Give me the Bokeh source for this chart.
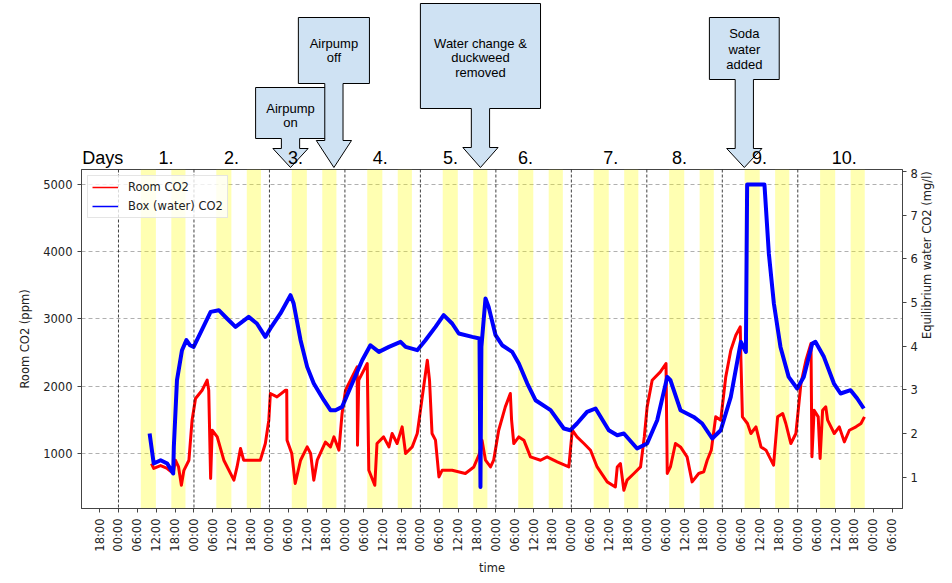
import numpy as np
from bokeh.plotting import figure
from bokeh.models import (Range1d, LinearAxis, FixedTicker, Span, Legend, LegendItem,
                          BoxAnnotation)
from bokeh.layouts import column
from bokeh.embed import file_html
from bokeh.resources import INLINE
from bokeh.core.properties import value

# ---------------- data (time in hours since midnight of day 1) ----------------
box_t = [9.9, 11.2, 13.4, 15.5, 17.4, 17.6, 18.6, 20.2, 21.6, 22.7, 23.9, 29.3, 31.9, 34.5,
         37.2, 41.4, 44.0, 46.7, 48.3, 51.5, 54.7, 55.7, 57.9, 60.0, 62.1, 65.3, 67.4, 69.0,
         71.1, 74.3, 77.5, 80.1, 82.8, 86.0, 89.7, 91.3, 95.0, 97.6, 100.8, 103.4, 106.1,
         108.2, 112.5, 114.8, 115.1, 115.4, 116.7, 117.7, 119.9, 122.0, 125.2, 127.3, 130.0,
         132.6, 137.4, 141.6, 143.7, 145.8, 149.0, 151.7, 155.9, 158.6, 160.7, 164.9, 168.1,
         171.3, 174.5, 175.5, 178.7, 182.9, 185.6, 188.8, 191.5, 194.7, 197.9, 199.5, 199.9,
         205.4, 206.8, 208.4, 210.5, 213.1, 215.8, 217.9, 220.6, 221.6, 224.3, 227.5, 229.6,
         232.8, 234.9, 237.0]
box_ppm = [1297, 851, 900, 851, 703, 1098, 2090, 2536, 2685, 2610, 2585, 3106, 3131, 3007,
           2883, 3031, 2933, 2734, 2859, 3082, 3354, 3230, 2685, 2288, 2040, 1792, 1644, 1644,
           1693, 2040, 2387, 2610, 2511, 2585, 2660, 2585, 2536, 2685, 2883, 3057, 2933,
           2784, 2734, 2710, 503, 2585, 3305, 3180, 2759, 2610, 2511, 2338, 2040,
           1792, 1644, 1372, 1346, 1446, 1619, 1669, 1346, 1272, 1297, 1074, 1148,
           1495, 2139, 2090, 1644, 1544, 1446, 1223, 1346, 1842, 2660, 2511, 5000,
           5000, 3974, 3231, 2585, 2139, 1967, 2139, 2636, 2660, 2437, 2040, 1892,
           1941, 1818, 1669]

room_t = [10.5, 11.2, 13.4, 15.5, 17.4, 18.1, 19.1, 20.0, 20.8, 22.4, 23.4, 24.5, 26.6, 28.2,
          28.7, 29.3, 29.8, 31.4, 33.5, 36.7, 37.7, 38.8, 39.8, 43.0, 45.1, 46.7, 47.8, 48.3,
          50.4, 53.1, 53.5, 53.6, 55.1, 56.2, 57.9, 60.0, 61.1, 62.1, 63.2, 65.8, 67.4, 68.5,
          70.1, 71.1, 72.2, 74.3, 75.9, 76.0, 76.4, 79.1, 79.6, 81.5, 82.2, 84.3, 86.0, 87.0,
          88.6, 90.2, 91.3, 93.4, 95.0, 96.6, 98.2, 98.9, 99.7, 100.8, 101.9, 102.9, 106.1,
          110.3, 113.0, 114.8, 115.6, 116.7, 118.3, 119.3, 120.9, 123.0, 124.6, 125.0, 125.7,
          127.3, 128.9, 131.0, 134.2, 136.3, 139.5, 143.2, 144.3, 145.8, 148.0, 150.1, 152.2,
          155.4, 158.0, 158.6, 159.6, 160.7, 161.7, 163.9, 166.0, 167.2, 168.1, 169.7, 172.3,
          174.1, 174.5, 175.5, 177.1, 178.7, 180.8, 182.4, 184.5, 186.1, 187.2, 188.5, 189.9,
          191.5, 193.1, 194.7, 196.3, 197.7, 197.9, 198.4, 200.0, 201.1, 202.7, 204.3, 205.9,
          208.3, 209.6, 211.2, 212.2, 213.8, 215.4, 217.0, 218.6, 220.2, 220.5, 221.2, 222.5,
          223.1, 223.9, 224.9, 225.5, 227.6, 229.2, 230.8, 232.4, 234.5, 236.1, 237.2]
room_ppm = [850, 777, 820, 777, 703, 900, 800, 527, 750, 900, 1495, 1818, 1941, 2090,
            1941, 628, 1346, 1247, 900, 603, 800, 1074, 900, 900, 900, 1148, 1495, 1892,
            1842, 1941, 1941, 1198, 1000, 554, 900, 1098, 1000, 603, 900, 1170, 1098, 1247,
            1049, 1595, 1941, 2139, 2288, 1124, 2090, 2338, 750, 527, 1148, 1247, 1098, 1297,
            1148, 1396, 1000, 1098, 1297, 1842, 2387, 2090, 1297, 1198, 652, 750, 750,
            703, 800, 1000, 1198, 900, 800, 900, 1346, 1693, 1892, 1495, 1148,
            1247, 1198, 950, 900, 950, 875, 800, 1346, 1247, 1148, 1049, 800,
            578, 503, 800, 851, 454, 603, 703, 800, 1247, 1693, 2090, 2214,
            2338, 703, 800, 1148, 1098, 950, 578, 703, 728, 900, 1050, 1545,
            1495, 2139, 2536, 2759, 2883, 2437, 1545, 1446, 1297, 1396, 1098, 1049,
            826, 1545, 1595, 1446, 1148, 1297, 2040, 2387, 2636, 950, 1644, 1545,
            925, 1644, 1693, 1495, 1297, 1396, 1173, 1346, 1396, 1446, 1545]

PPM_TO_MGL = 0.00154          # equilibrium water CO2 (mg/l) per ppm
x_ticks = list(range(-6, 247, 6))
tick_labels = {t: "%02d:00" % (t % 24) for t in x_ticks}
y_ticks = [1000, 2000, 3000, 4000, 5000]
y2_ticks = [1, 2, 3, 4, 5, 6, 7, 8]
midnights = [0, 24, 48, 72, 96, 120, 144, 168, 192, 216]
light_start = [7.1, 16.8]       # daily light periods (hour of day)
light_end = [11.9, 21.3]

day_labels = ["Days", "1.", "2.", "3.", "4.", "5.", "6.", "7.", "8.", "9.", "10."]
day_label_t = [-5.0, 15.1, 35.9, 56.3, 83.2, 105.6, 129.4, 156.5, 178.4, 203.8, 230.8]

events = [["Airpump", "on"], ["Airpump", "off"],
          ["Water change &", "duckweed", "removed"], ["Soda", "water", "added"]]
event_t = [54.7, 68.5, 115.1, 199.0]

# callout geometry (x half-widths in hours, y in px from page top)
box_half = [11.1, 11.3, 19.1, 11.1]
box_top = [87, 17, 3, 17]
box_bottom = [138, 83, 108, 79]
head_top = [148, 140, 147, 148]
text_rows = [[108, 122], [42.7, 56.7], [42.7, 57, 72], [33, 49, 64]]
SHAFT = 2.9
HEAD = 5.6
TIP = 167

TXT = "#222222"
FONT = "DejaVu Sans"

# layout (px)
W = 950
FL, FR = 81, 902             # frame left / right
TOP_H = 168
MAIN_H = 412
X0, X1 = -11.76, 249.3

# ---------------- main figure ----------------
p = figure(width=W, height=MAIN_H, x_range=Range1d(X0, X1), y_range=Range1d(182, 5223),
           toolbar_location=None, output_backend="svg",
           min_border_left=FL, min_border_right=W - FR, min_border_top=1,
           min_border_bottom=MAIN_H - 1 - 339)
p.background_fill_color = "white"
p.border_fill_color = "white"
p.outline_line_color = "#444444"
p.outline_line_width = 1

for d in midnights:
    for s, e in zip(light_start, light_end):
        p.add_layout(BoxAnnotation(left=d + s, right=d + e, fill_color="yellow",
                                   fill_alpha=0.3, line_color=None, level="underlay"))

for m in midnights:
    p.add_layout(Span(location=m, dimension="height", line_color="black",
                      line_dash="3 2", line_width=1, line_alpha=0.75))

p.line(room_t, room_ppm, color="red", line_width=3, line_join="round")
p.line(box_t, box_ppm, color="blue", line_width=4, line_join="round")

leg_room = p.line([-100, -99], [-100, -100], color="red", line_width=1.5)
leg_box = p.line([-100, -99], [-100, -100], color="blue", line_width=1.5)
legend = Legend(items=[LegendItem(label="Room CO2", renderers=[leg_room]),
                       LegendItem(label="Box (water) CO2", renderers=[leg_box])],
                location="top_left", margin=6, padding=4, spacing=5,
                glyph_width=26, glyph_height=14, label_height=14, label_standoff=10,
                label_text_font=FONT, label_text_font_size="11.5px", label_text_color=TXT,
                border_line_color="#cccccc", background_fill_alpha=0.8)
p.add_layout(legend)

p.xgrid.visible = False
p.ygrid.ticker = FixedTicker(ticks=y_ticks)
p.ygrid.grid_line_color = "#b0b0b0"
p.ygrid.grid_line_dash = "4 3"
p.ygrid.grid_line_width = 1

p.extra_y_ranges = {"mgl": Range1d(182 * PPM_TO_MGL, 5223 * PPM_TO_MGL)}
right = LinearAxis(y_range_name="mgl", axis_label="Equilibrium water CO2 (mg/l)",
                   ticker=FixedTicker(ticks=y2_ticks))
p.add_layout(right, "right")
try:
    right.axis_label_orientation = np.pi / 2
except Exception:
    pass

p.xaxis.ticker = FixedTicker(ticks=x_ticks)
p.xaxis.major_label_overrides = tick_labels
p.xaxis.major_label_orientation = np.pi / 2
p.xaxis.axis_label = "time"
p.yaxis[0].ticker = FixedTicker(ticks=y_ticks)
p.yaxis[0].axis_label = "Room CO2 (ppm)"

for ax in p.xaxis + p.yaxis:
    ax.minor_tick_line_color = None
    ax.major_tick_out = 4
    ax.major_tick_in = 0
    ax.major_tick_line_color = "#444444"
    ax.axis_line_color = "#444444"
    ax.major_label_text_font = FONT
    ax.major_label_text_font_size = "11.5px"
    ax.major_label_text_color = TXT
    ax.axis_label_text_font = FONT
    ax.axis_label_text_font_size = "11.5px"
    ax.axis_label_text_font_style = "normal"
    ax.axis_label_text_color = TXT
p.yaxis[0].major_label_standoff = 5
p.yaxis[0].axis_label_standoff = 8
p.xaxis.major_label_standoff = 6
p.xaxis.axis_label_standoff = 6
right.major_label_standoff = 4
right.axis_label_standoff = 6

# ---------------- annotation strip above the plot (shares the time axis) ----------------
top = figure(width=W, height=TOP_H, x_range=p.x_range, y_range=Range1d(TOP_H, 0),
             toolbar_location=None, output_backend="svg",
             x_axis_location=None, y_axis_location=None,
             min_border_left=FL, min_border_right=W - FR, min_border_top=0, min_border_bottom=0)
top.grid.visible = False
top.outline_line_color = None
top.background_fill_color = "white"
top.border_fill_color = "white"

xs, ys = [], []
for t, bh, bt, bb, ht in zip(event_t, box_half, box_top, box_bottom, head_top):
    xs.append([t - bh, t + bh, t + bh, t + SHAFT, t + SHAFT, t + HEAD, t, t - HEAD,
               t - SHAFT, t - SHAFT, t - bh])
    ys.append([bt, bt, bb, bb, ht, ht, TIP, ht, ht, bb, bb])
top.patches(xs, ys, fill_color="#cfe2f3", line_color="black", line_width=1)

tx, ty, tt = [], [], []
for t, lines, rows in zip(event_t, events, text_rows):
    for line, r in zip(lines, rows):
        tx.append(t)
        ty.append(r)
        tt.append(line)
top.text(tx, ty, text=tt, text_align="center", text_baseline="middle",
         text_font=value("Liberation Sans"), text_font_size="13px", text_color="black")

top.text(day_label_t, [157] * len(day_labels), text=day_labels, text_align="center",
         text_baseline="middle", text_font=value("Liberation Sans"),
         text_font_size="18px", text_color="black")

layout = column(top, p, spacing=0)
open("out.html", "w").write(file_html(layout, INLINE))
